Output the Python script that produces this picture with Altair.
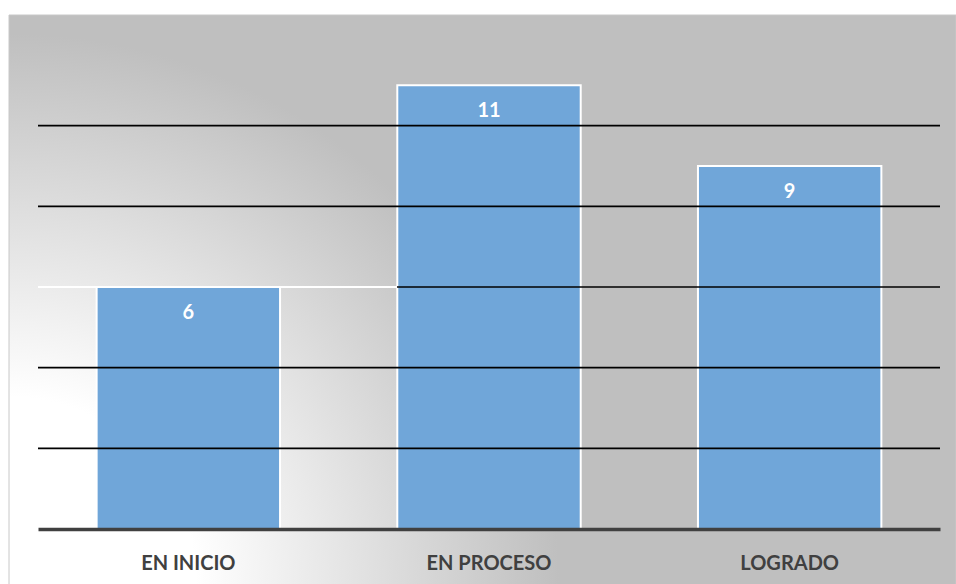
import altair as alt
import pandas as pd

categories = ["EN INICIO", "EN PROCESO", "LOGRADO"]
values = [6, 11, 9]
grid_values = [2, 4, 6, 8, 10]

W, H = 902, 484

df = pd.DataFrame({"cat": categories, "val": values})
gdf = pd.DataFrame({"g": grid_values})

xenc = alt.X("cat:N", sort=categories,
             scale=alt.Scale(paddingInner=0.39, paddingOuter=0.195),
             axis=alt.Axis(title=None, labelAngle=0, ticks=False, grid=False,
                           domainColor="#404040", domainWidth=3.5,
                           labelFont="Lato", labelFontWeight="bold", labelFontSize=20,
                           labelColor="#404040", labelPadding=34, labelBaseline="middle",
                           zindex=1))
yscale = alt.Scale(domain=[0, 12], nice=False)

# square background box so that the radial gradient stays circular
BOX = 947
grad = alt.RadialGradient(
    gradient="radial",
    x1=0, y1=0.601, r1=0,
    x2=0, y2=0.601, r2=0.581,
    stops=[alt.GradientStop(color="#FFFFFF", offset=0),
           alt.GradientStop(color="#FFFFFF", offset=0.34),
           alt.GradientStop(color="#BFBFBF", offset=1)],
)

bg = alt.Chart(pd.DataFrame({"a": [0]})).mark_rect(
    color=grad, stroke="#C8C8C8", strokeWidth=1
).encode(
    x=alt.value(-29), x2=alt.value(-29 + BOX),
    y=alt.value(-30), y2=alt.value(-30 + BOX),
)

bars = alt.Chart(df).mark_bar(color="#70A6D9", stroke="#FFFFFF", strokeWidth=2).encode(
    x=xenc,
    y=alt.Y("val:Q", scale=yscale, axis=None),
)

grid = alt.Chart(gdf).mark_rule(color="#000000", strokeWidth=1.6).encode(
    y=alt.Y("g:Q", scale=yscale, axis=None),
)

white_seg = alt.Chart(pd.DataFrame({"g": [6]})).mark_rule(color="#FFFFFF", strokeWidth=2).encode(
    y=alt.Y("g:Q", scale=yscale, axis=None),
    x=alt.value(0), x2=alt.value(359),
)

labels = alt.Chart(df).mark_text(
    font="Lato", fontWeight="bold", fontSize=20, color="#FFFFFF",
    baseline="middle", dy=26,
).encode(
    x=alt.X("cat:N", sort=categories),
    y=alt.Y("val:Q", scale=yscale, axis=None),
    text="val:Q",
)

chart = alt.layer(bg, bars, grid, white_seg, labels).properties(
    width=W, height=H,
    autosize=alt.AutoSizeParams(type="none"),
    padding={"left": 38, "top": 45, "right": 16, "bottom": 55},
    background="#FFFFFF",
).configure_view(strokeWidth=0)

chart.save("out.html", embed_options={"renderer": "svg", "actions": False})
